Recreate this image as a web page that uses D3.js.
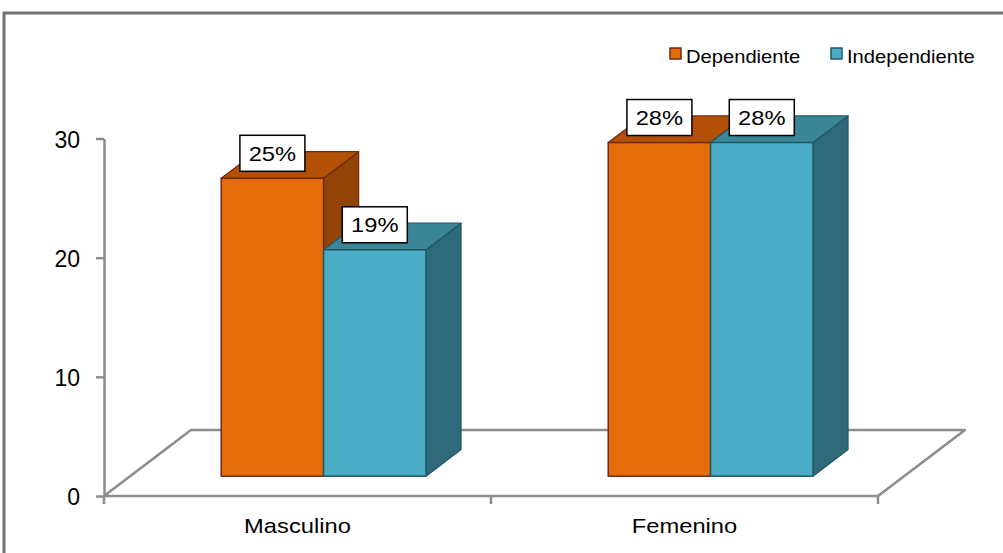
<!DOCTYPE html>
<html>
<head>
<meta charset="utf-8">
<script src="https://cdn.jsdelivr.net/npm/d3@7"></script>
<style>
  html, body { margin: 0; padding: 0; background: #fff; }
  svg { display: block; font-family: "Liberation Sans", Arial, sans-serif; }
</style>
</head>
<body>
<script>
// Data
const categories = ["Masculino", "Femenino"];
const series = ["Dependiente", "Independiente"];
const dependiente = [25, 28];
const independiente = [19, 28];
const yTicks = [0, 10, 20, 30];

const values = { Dependiente: dependiente, Independiente: independiente };

// Face colours per series: front, top, side, outline
const palette = {
  Dependiente:   { front: "#E46C0A", top: "#B25106", side: "#924307", edge: "#6E2A18" },
  Independiente: { front: "#4BACC6", top: "#3A8698", side: "#2F6A7A", edge: "#215866" }
};

const W = 1003, H = 553;
const svg = d3.select("body").append("svg").attr("width", W).attr("height", H);

// Outer frame
svg.append("rect")
  .attr("x", 4).attr("y", 13).attr("width", 1100).attr("height", 600)
  .attr("fill", "none").attr("stroke", "#737373").attr("stroke-width", 3);

// Scales (front plane of the plot)
const x0 = d3.scaleBand().domain(categories).range([104, 878]).paddingInner(0).paddingOuter(0);
const x1 = d3.scaleBand().domain(series).range([0, x0.bandwidth()]).paddingInner(0).paddingOuter(0.89);
const y = d3.scaleLinear().domain([0, 30]).range([496, 138.5]);

// Oblique depth of the floor
const depthX = 87, depthY = -66;
const d0 = 0.3, d1 = 0.703;             // bar front / back depth fractions
const off = d => [depthX * d, depthY * d];

const axisColor = "#8c8c8c";

// Floor
const [fx0, fx1] = x0.range();
const floorPts = [[fx0, y(0)], [fx1, y(0)], [fx1 + depthX, y(0) + depthY], [fx0 + depthX, y(0) + depthY]];
svg.append("polygon")
  .attr("points", floorPts.map(p => p.join(",")).join(" "))
  .attr("fill", "#fff").attr("stroke", axisColor).attr("stroke-width", 2.5)
  .attr("stroke-linejoin", "round");

// Y axis
const yAxis = svg.append("g")
  .attr("transform", `translate(${fx0},0)`)
  .call(d3.axisLeft(y).tickValues(yTicks).tickSize(8).tickSizeOuter(0).tickPadding(16));
yAxis.select(".domain").attr("stroke", axisColor).attr("stroke-width", 2.5);
yAxis.selectAll(".tick line").attr("stroke", axisColor).attr("stroke-width", 2.5);
yAxis.selectAll(".tick text")
  .attr("fill", "#000").attr("font-size", 23).attr("dy", "0.38em")
  .attr("font-family", "'Liberation Sans', Arial, sans-serif");

// Category boundary ticks
const bounds = categories.map(c => x0(c)).concat([fx1]);
svg.selectAll("line.ctick").data(bounds).join("line")
  .attr("class", "ctick")
  .attr("x1", d => d).attr("x2", d => d)
  .attr("y1", y(0)).attr("y2", y(0) + 8)
  .attr("stroke", axisColor).attr("stroke-width", 2.5);

// Category labels
svg.selectAll("g.clabel").data(categories).join("g")
  .attr("class", "clabel")
  .attr("transform", c => `translate(${x0(c) + x0.bandwidth() / 2},533) scale(1.13,1)`)
  .append("text")
  .attr("text-anchor", "middle").attr("font-size", 21).attr("fill", "#000")
  .text(c => c);

// Bars
const [bx0, by0] = off(d0);
const ddx = depthX * (d1 - d0), ddy = depthY * (d1 - d0);
const poly = pts => pts.map(p => p.join(",")).join(" ");

const bars = [];
categories.forEach((c, i) => {
  series.forEach(s => {
    const v = values[s][i];
    const xf = x0(c) + x1(s) + bx0;
    const w = x1.bandwidth();
    const yt = y(v) + by0, yb = y(0) + by0;
    bars.push({ c, s, v, xf, w, yt, yb });
  });
});

const gBars = svg.append("g");
bars.forEach(b => {
  const col = palette[b.s];
  const g = gBars.append("g");
  // side face
  g.append("polygon")
    .attr("points", poly([[b.xf + b.w, b.yt], [b.xf + b.w + ddx, b.yt + ddy], [b.xf + b.w + ddx, b.yb + ddy], [b.xf + b.w, b.yb]]))
    .attr("fill", col.side).attr("stroke", col.edge).attr("stroke-width", 1.2).attr("stroke-linejoin", "round");
  // top face
  g.append("polygon")
    .attr("points", poly([[b.xf, b.yt], [b.xf + ddx, b.yt + ddy], [b.xf + b.w + ddx, b.yt + ddy], [b.xf + b.w, b.yt]]))
    .attr("fill", col.top).attr("stroke", col.edge).attr("stroke-width", 1.2).attr("stroke-linejoin", "round");
  // front face
  g.append("rect")
    .attr("x", b.xf).attr("y", b.yt).attr("width", b.w).attr("height", b.yb - b.yt)
    .attr("fill", col.front).attr("stroke", col.edge).attr("stroke-width", 1.5);
});

// Value labels
const gLabels = svg.append("g");
bars.forEach(b => {
  const cx = b.xf + b.w / 2, cy = b.yt - 25;
  gLabels.append("rect")
    .attr("x", cx - 32.5).attr("y", cy - 18).attr("width", 65).attr("height", 36)
    .attr("fill", "#fff").attr("stroke", "#000").attr("stroke-width", 1.5);
  gLabels.append("g")
    .attr("transform", `translate(${cx},${cy}) scale(1.13,1)`)
    .append("text")
    .attr("text-anchor", "middle").attr("dy", "0.36em")
    .attr("font-size", 21).attr("fill", "#000")
    .text(`${b.v}%`);
});

// Legend
const legendX = [670, 831];
const legend = svg.selectAll("g.legend").data(series).join("g")
  .attr("class", "legend")
  .attr("transform", (s, i) => `translate(${legendX[i]},0)`);
legend.append("rect")
  .attr("x", 0).attr("y", 48).attr("width", 11).attr("height", 11)
  .attr("fill", s => palette[s].front).attr("stroke", s => palette[s].edge).attr("stroke-width", 1.5);
legend.append("g")
  .attr("transform", "translate(16,63) scale(1.12,1)")
  .append("text")
  .attr("font-size", 18).attr("fill", "#000")
  .text(s => s);
</script>
</body>
</html>
